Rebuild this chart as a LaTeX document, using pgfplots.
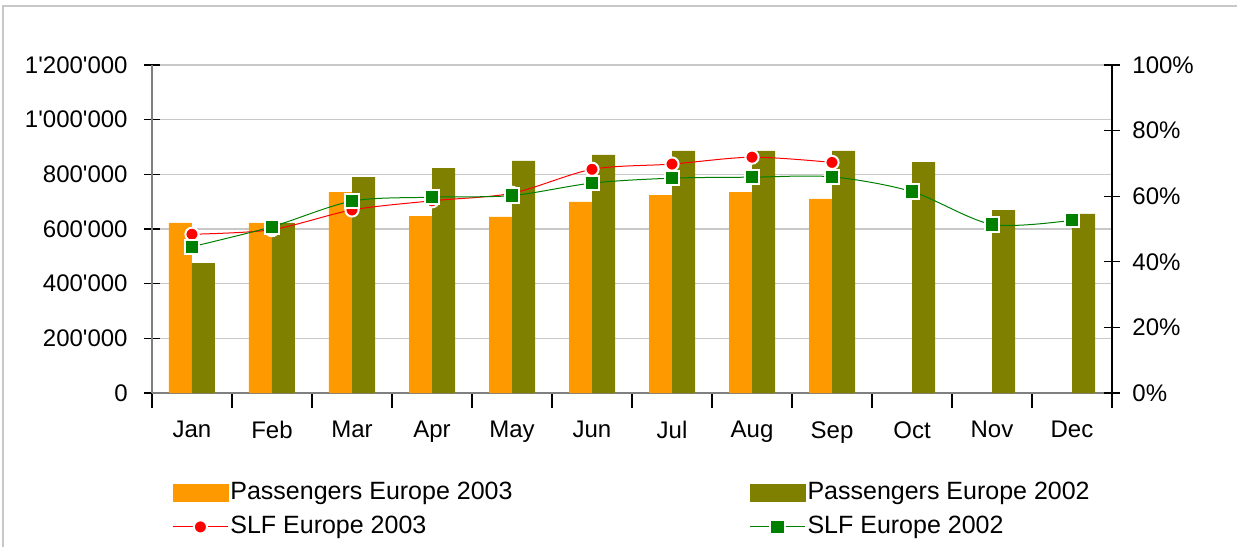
\documentclass[border=0pt]{standalone}
\usepackage{fontspec}
\setmainfont{Liberation Sans}
\usepackage{pgfplots}
\pgfplotsset{compat=1.18}
\definecolor{orangeC}{HTML}{FF9900}
\definecolor{oliveC}{HTML}{808000}
\definecolor{redC}{HTML}{FF0000}
\definecolor{greenC}{HTML}{008000}
\definecolor{gridC}{HTML}{C8C8C8}
\definecolor{axisC}{HTML}{808080}
\pgfplotsset{
  lineleg/.style={legend image code/.code={\draw[mark repeat=2,mark phase=2,##1] plot coordinates {(0pt,0pt) (13.75pt,0pt) (27.5pt,0pt)};}},
}
\begin{document}
\fontsize{12}{14}\selectfont
\begin{tikzpicture}
\useasboundingbox (-76pt,-77pt) rectangle (542.5pt,196.5pt);
\draw[gridC, line width=0.75pt] (-74.5pt,-77pt) -- (-74.5pt,193.5pt) -- (542.5pt,193.5pt);
\begin{axis}[
  at={(0pt,0pt)}, anchor=south west,
  scale only axis, width=480pt, height=164pt,
  xmin=-0.5, xmax=11.5, ymin=0, ymax=1200000,
  axis x line*=bottom, axis y line*=left,
  axis line style={-, axisC, line width=0.75pt},
  xtick={0,...,11},
  xticklabels={Jan,Feb,Mar,Apr,May,Jun,Jul,Aug,Sep,Oct,Nov,Dec},
  xticklabel style={yshift=-2pt},
  yticklabel style={xshift=-4pt},
  major x tick style={draw=none},
  minor xtick={-0.5,0.5,...,11.5},
  minor tick length=7.5pt,
  major tick length=8pt,
  tick align=center,
  tick style={black, line width=0.6pt},
  ytick={0,200000,400000,600000,800000,1000000,1200000},
  yticklabels={0,200\textquotesingle000,400\textquotesingle000,600\textquotesingle000,800\textquotesingle000,1\textquotesingle000\textquotesingle000,1\textquotesingle200\textquotesingle000},
  scaled y ticks=false,
  ymajorgrids,
  major grid style={gridC, line width=0.6pt},
  ybar=0pt, bar width=11.5pt,
]
\addplot[fill=orangeC, draw=none] coordinates {(0,622000) (1,622000) (2,735000) (3,647000) (4,644000) (5,699000) (6,724000) (7,735000) (8,710000)};
\addplot[fill=oliveC, draw=none] coordinates {(0,475000) (1,622000) (2,790000) (3,823000) (4,849000) (5,871000) (6,886000) (7,886000) (8,886000) (9,845000) (10,669000) (11,655000)};
\end{axis}
\begin{axis}[
  at={(0pt,0pt)}, anchor=south west,
  scale only axis, width=480pt, height=164pt,
  xmin=-0.5, xmax=11.5, ymin=0, ymax=100,
  axis x line=none, axis y line*=right,
  axis line style={-, black, line width=0.75pt},
  ytick={0,20,40,60,80,100},
  yticklabels={0\%,20\%,40\%,60\%,80\%,100\%},
  yticklabel style={xshift=2pt},
  major tick length=8pt, tick align=center,
  tick style={black, line width=0.6pt},
  legend columns=2,
  legend cell align=left,
  legend style={at={(axis description cs:0.0146,-0.25)}, anchor=north west, draw=none, fill=none,
    font=\fontsize{12.5}{14}\selectfont,
    row sep=3.5pt, /tikz/every even column/.append style={column sep=117.5pt},
    nodes={inner sep=1pt, text height=9pt, text depth=2.5pt}},
]
\addlegendimage{legend image code/.code={\fill[orangeC] (0pt,-4.25pt) rectangle (27.5pt,4.25pt);}}
\addlegendentry{Passengers Europe 2003}
\addlegendimage{legend image code/.code={\fill[oliveC] (0pt,-4.25pt) rectangle (27.5pt,4.25pt);}}
\addlegendentry{Passengers Europe 2002}
\addplot[redC, line width=0.5pt, smooth, mark=*, mark size=3.3pt, mark options={fill=redC, draw=white, line width=1pt}, lineleg]
  coordinates {(0,48.4) (1,49.8) (2,55.8) (3,58.6) (4,60.9) (5,68.2) (6,69.8) (7,71.9) (8,70.3)};
\addlegendentry{SLF Europe 2003}
\addplot[greenC, line width=0.5pt, smooth, mark=square*, mark size=3.6pt, mark options={fill=greenC, draw=white, line width=1pt}, lineleg]
  coordinates {(0,44.6) (1,50.7) (2,58.5) (3,59.7) (4,60.2) (5,64.0) (6,65.5) (7,65.8) (8,65.9) (9,61.4) (10,51.4) (11,52.7)};
\addlegendentry{SLF Europe 2002}
\end{axis}
\end{tikzpicture}
\end{document}
